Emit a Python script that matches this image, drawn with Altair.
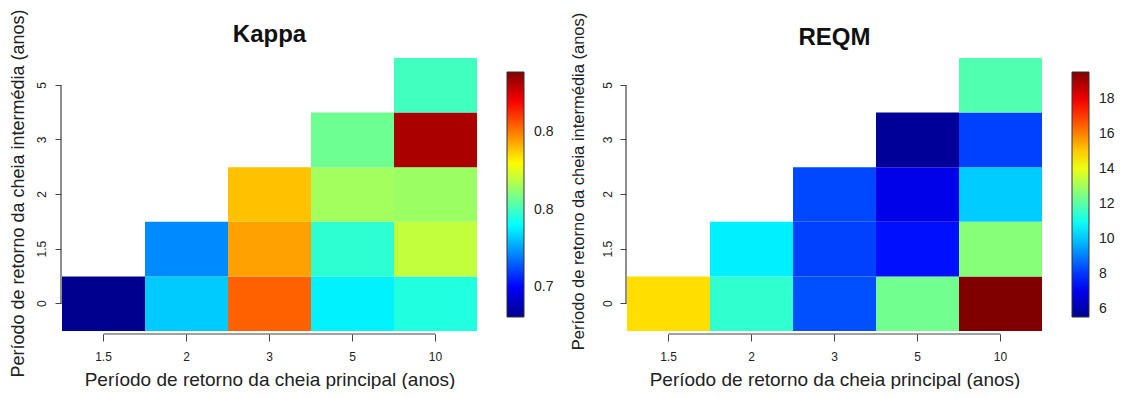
import altair as alt
import pandas as pd

x_categories = ["1.5", "2", "3", "5", "10"]
y_categories = ["5", "3", "2", "1.5", "0"]

cell_x = ["1.5", "2", "3", "5", "10", "2", "3", "5", "10", "3", "5", "10", "5", "10", "10"]
cell_y = ["0", "0", "0", "0", "0", "1.5", "1.5", "1.5", "1.5", "2", "2", "2", "3", "3", "5"]

kappa_values = [0.681, 0.732, 0.804, 0.738, 0.745, 0.722, 0.794, 0.747, 0.770,
                0.789, 0.765, 0.764, 0.757, 0.832, 0.750]
reqm_values = [14.75, 11.45, 8.38, 12.33, 19.54, 10.58, 8.17, 7.51, 12.65,
               8.27, 6.94, 10.09, 5.68, 8.17, 11.88]

kappa_range = [0.681, 0.8385]
reqm_range = [5.54, 19.54]
kappa_ticks = [0.70, 0.75, 0.80]
reqm_ticks = [6, 8, 10, 12, 14, 16, 18]

jet_colors = ["#00008F", "#0000FF", "#0080FF", "#00FFFF", "#80FF80",
              "#FFFF00", "#FF8000", "#FF0000", "#800000"]

x_title = "Período de retorno da cheia principal (anos)"
y_title = "Período de retorno da cheia intermédia (anos)"

FONT = "Liberation Sans"
TEXT = "#222222"
AXC = "#444444"
W, H = 415, 273

x_axis = alt.Axis(domain=False, tickSize=7, tickColor=AXC, offset=3,
                  labelAngle=0, labelFontSize=12, labelFont=FONT,
                  labelColor=TEXT, labelPadding=10,
                  titleFontSize=19, titleFont=FONT, titleColor=TEXT,
                  titleFontWeight="normal", titlePadding=8)


def make_y_axis(title_size, label_pad, title_pad, title_y):
    return alt.Axis(domain=False, tickSize=6, tickColor=AXC, offset=1,
                    labelAngle=270, labelFontSize=12, labelFont=FONT,
                    labelColor=TEXT, labelPadding=label_pad,
                    titleFontSize=title_size, titleFont=FONT, titleColor=TEXT,
                    titleFontWeight="normal", titlePadding=title_pad,
                    titleY=title_y)


def panel(values, title, vrange, ticks, fmt, y_axis):
    df = pd.DataFrame({"x": cell_x, "y": cell_y, "v": values})
    n = len(jet_colors)
    stops = [vrange[0] + i * (vrange[1] - vrange[0]) / (n - 1) for i in range(n)]
    xs = alt.Scale(domain=x_categories, paddingInner=0, paddingOuter=0)
    ys = alt.Scale(domain=y_categories, paddingInner=0, paddingOuter=0)

    rect = alt.Chart(df).mark_rect().encode(
        x=alt.X("x:N", scale=xs, title=x_title, axis=x_axis),
        y=alt.Y("y:N", scale=ys, title=y_title, axis=y_axis),
        color=alt.Color("v:Q",
                        scale=alt.Scale(domain=stops, range=jet_colors, interpolate="rgb"),
                        legend=alt.Legend(title=None, orient="none",
                                          legendX=W + 30, legendY=14,
                                          gradientLength=245, gradientThickness=17,
                                          values=ticks, format=fmt,
                                          labelFontSize=14, labelFont=FONT,
                                          labelColor=TEXT, labelOffset=10,
                                          gradientStrokeColor="#333333",
                                          gradientStrokeWidth=1)),
    )

    ydf = pd.DataFrame({"a": [y_categories[0]], "b": [y_categories[-1]]})
    yline = alt.Chart(ydf).mark_rule(color=AXC, strokeWidth=1.2).encode(
        y=alt.Y("a:N", scale=ys, bandPosition=0.5, title=y_title, axis=y_axis),
        y2=alt.Y2("b:N", bandPosition=0.5),
        x=alt.value(-1),
    )
    xdf = pd.DataFrame({"a": [x_categories[0]], "b": [x_categories[-1]]})
    xline = alt.Chart(xdf).mark_rule(color=AXC, strokeWidth=1.2).encode(
        x=alt.X("a:N", scale=xs, bandPosition=0.5, title=x_title, axis=x_axis),
        x2=alt.X2("b:N", bandPosition=0.5),
        y=alt.value(H + 3),
    )

    return alt.layer(rect, yline, xline).properties(
        width=W, height=H,
        title=alt.TitleParams(title, fontSize=24, fontWeight="bold", font=FONT,
                              color="#111111", anchor="middle", offset=-38),
    )


left = panel(kappa_values, "Kappa", kappa_range, kappa_ticks, ".1f",
             make_y_axis(18, 7, 8, 135))
right = panel(reqm_values, "REQM", reqm_range, reqm_ticks, "d",
              make_y_axis(16.5, 6, 15, 123))

chart = alt.hconcat(left, right, spacing=150, bounds="flush").resolve_scale(
    color="independent"
).properties(
    padding={"left": 0, "top": 0, "right": 0, "bottom": 0},
    background="white",
).configure_view(stroke=None)

chart.save("out.html", embed_options={"renderer": "svg", "actions": False})
